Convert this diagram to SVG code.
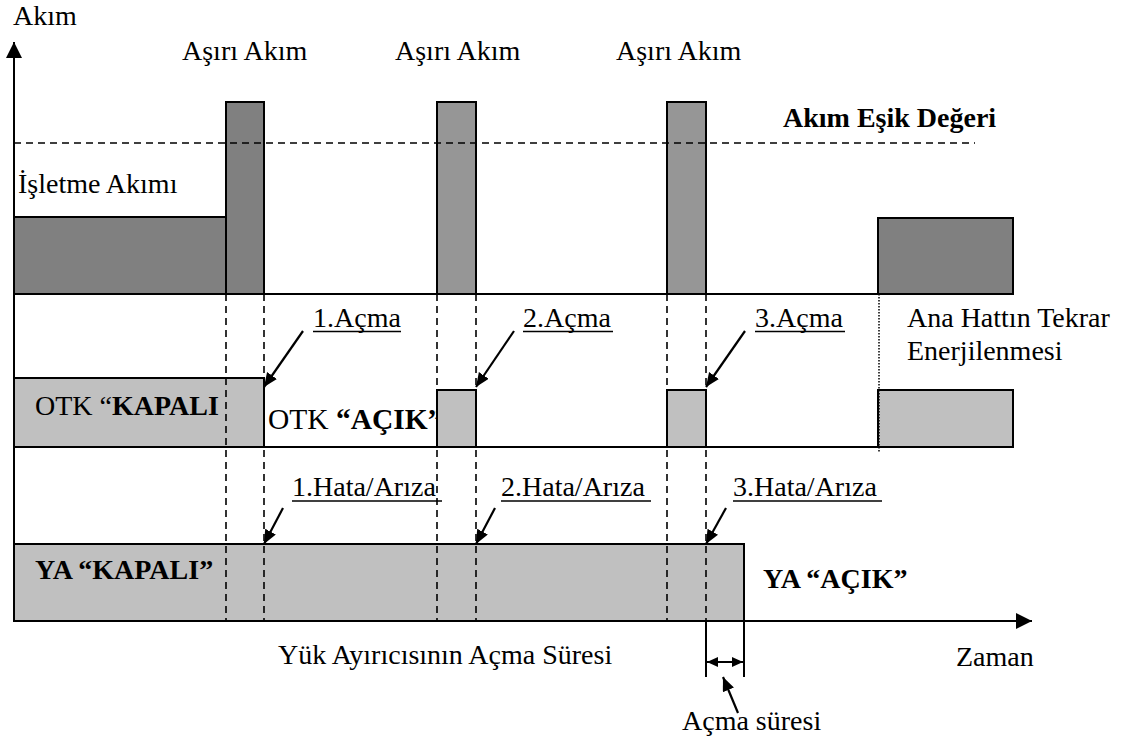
<svg xmlns="http://www.w3.org/2000/svg" width="1125" height="742" viewBox="0 0 1125 742">
<defs>
<style>
text{font-family:"Liberation Serif","Times New Roman",serif;font-size:28px;fill:#000}
.b{font-weight:bold}
.dk{fill:#808080;stroke:#000;stroke-width:2}
.md{fill:#969696;stroke:#000;stroke-width:2}
.lt{fill:#c0c0c0;stroke:#000;stroke-width:2}
.ln{stroke:#000;stroke-width:2;fill:none}
.dash{stroke:#000;stroke-width:1.6;stroke-dasharray:7 5;fill:none}
.ul{stroke:#000;stroke-width:1.5}
.ptr{stroke:#000;stroke-width:2.2;fill:none;marker-end:url(#ah)}
</style>
<marker id="ah" markerUnits="userSpaceOnUse" markerWidth="16" markerHeight="14" refX="14" refY="6" orient="auto">
<path d="M0,0 L14,6 L0,12 z" fill="#000"/>
</marker>
<marker id="ax" markerUnits="userSpaceOnUse" markerWidth="18" markerHeight="18" refX="16" refY="8" orient="auto-start-reverse">
<path d="M0,0 L16,8 L0,16 z" fill="#000"/>
</marker>
<marker id="da" markerUnits="userSpaceOnUse" markerWidth="12" markerHeight="12" refX="11" refY="5" orient="auto-start-reverse">
<path d="M0,0 L11,5 L0,10 z" fill="#000"/>
</marker>
</defs>

<g id="row1">
<rect id="isletme" class="dk" x="14" y="217" width="212" height="77"/>
<rect id="spike1" class="dk" x="226" y="102" width="38" height="192"/>
<rect id="spike2" class="md" x="437" y="102" width="39" height="192"/>
<rect id="spike3" class="md" x="667" y="102" width="39" height="192"/>
<rect id="reenergize" class="dk" x="878" y="218" width="135" height="76"/>
</g>

<g id="row2">
<text id="otk-acik" x="268" y="429" style="font-size:29.5px">OTK <tspan class="b">“AÇIK”</tspan></text>
<rect id="otk-kapali" class="lt" x="14" y="378" width="250" height="69"/>
<rect id="otk2" class="lt" x="437" y="390" width="39" height="57"/>
<rect id="otk3" class="lt" x="667" y="390" width="39" height="57"/>
<rect id="otk4" class="lt" x="878" y="390" width="135" height="57"/>
<text x="35" y="415">OTK “<tspan class="b">KAPALI</tspan></text>
</g>

<g id="row3">
<rect id="ya-kapali" class="lt" x="14" y="544" width="730" height="77"/>
<text class="b" x="35" y="579">YA “KAPALI”</text>
<text class="b" x="763" y="588">YA “AÇIK”</text>
</g>

<g id="connectors">
<line class="dash" x1="14" y1="143" x2="975" y2="143"/>
<line class="ln" x1="14" y1="294" x2="878" y2="294"/>
<line class="ln" x1="264" y1="447" x2="878" y2="447"/>
<line x1="879" y1="294" x2="879" y2="452" stroke="#000" stroke-width="1.5" stroke-dasharray="1.5 1.5"/>
<line class="dash" x1="226" y1="294" x2="226" y2="620"/>
<line class="dash" x1="264" y1="294" x2="264" y2="620"/>
<line class="dash" x1="437" y1="294" x2="437" y2="620"/>
<line class="dash" x1="476" y1="294" x2="476" y2="620"/>
<line class="dash" x1="667" y1="294" x2="667" y2="620"/>
<line class="dash" x1="706" y1="294" x2="706" y2="620"/>
<line class="ln" x1="14" y1="621" x2="14" y2="42" style="marker-end:url(#ax)"/>
<line class="ln" x1="14" y1="621" x2="1032" y2="621" style="marker-end:url(#ax)"/>
<line class="ln" x1="706" y1="621" x2="706" y2="677" stroke-width="1.6"/>
<line class="ln" x1="744" y1="621" x2="744" y2="677" stroke-width="1.6"/>
<line x1="707" y1="662" x2="743" y2="662" stroke="#000" stroke-width="2" marker-start="url(#da)" marker-end="url(#da)"/>
<line class="ptr" x1="303" y1="331" x2="264" y2="387"/>
<line class="ptr" x1="514" y1="331" x2="476" y2="387"/>
<line class="ptr" x1="745" y1="331" x2="706" y2="387"/>
<line class="ptr" x1="283" y1="508" x2="264" y2="544"/>
<line class="ptr" x1="495" y1="508" x2="476" y2="544"/>
<line class="ptr" x1="726" y1="508" x2="706" y2="544"/>
<line class="ptr" x1="738" y1="713" x2="723" y2="677"/>
</g>

<g id="labels">
<text x="13" y="25">Akım</text>
<text x="182" y="60">Aşırı Akım</text>
<text x="395" y="60">Aşırı Akım</text>
<text x="616" y="60">Aşırı Akım</text>
<text class="b" x="783" y="127">Akım Eşik Değeri</text>
<text x="18" y="193">İşletme Akımı</text>
<text x="313" y="327">1.Açma</text>
<line class="ul" x1="313" y1="331.5" x2="401" y2="331.5"/>
<text x="523" y="327">2.Açma</text>
<line class="ul" x1="523" y1="331.5" x2="613" y2="331.5"/>
<text x="755" y="327">3.Açma</text>
<line class="ul" x1="755" y1="331.5" x2="845" y2="331.5"/>
<text x="907" y="327">Ana Hattın Tekrar</text>
<text x="907" y="360">Enerjilenmesi</text>
<text x="292" y="496">1.Hata/Arıza</text>
<line class="ul" x1="292" y1="501" x2="442" y2="501"/>
<text x="501" y="496">2.Hata/Arıza</text>
<line class="ul" x1="501" y1="501" x2="651" y2="501"/>
<text x="733" y="496">3.Hata/Arıza</text>
<line class="ul" x1="733" y1="501" x2="882" y2="501"/>
<text x="278" y="664">Yük Ayırıcısının Açma Süresi</text>
<text x="956" y="666">Zaman</text>
<text x="682" y="730">Açma süresi</text>
</g>
</svg>
